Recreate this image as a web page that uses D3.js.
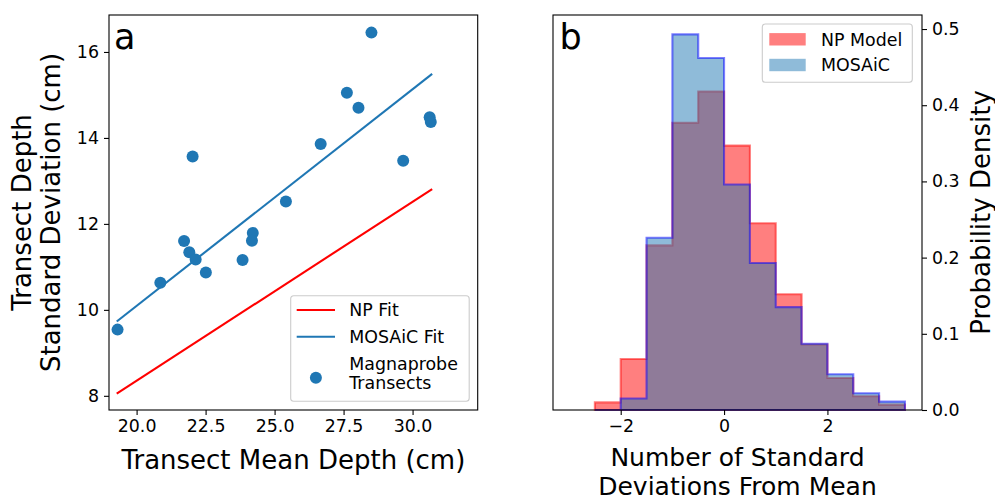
<!DOCTYPE html>
<html>
<head>
<meta charset="utf-8">
<script src="https://cdn.jsdelivr.net/npm/d3@7"></script>
<style>
  body { margin: 0; background: #fff; }
  svg { font-family: "DejaVu Sans", sans-serif; }
</style>
</head>
<body>
<svg id="chart"></svg>
<script>
// Panel a: magnaprobe transects
const meanDepth = [28.51, 27.62, 28.04, 30.62, 30.66, 26.67, 22.03, 29.66, 25.41,
  21.72, 21.91, 22.14, 22.51, 20.86, 19.31, 23.84, 24.21, 24.18]
const stdDepth = [16.45, 15.05, 14.70, 14.48, 14.37, 13.86, 13.57, 13.47, 12.52,
  11.60, 11.34, 11.17, 10.87, 10.63, 9.54, 11.16, 11.79, 11.61]

// Fit lines (end points)
const fitX = [19.28, 30.71]
const npFitY = [8.05, 12.81]
const mosaicFitY = [9.73, 15.49]

const xTicksA = [20, 22.5, 25, 27.5, 30]
const yTicksA = [8, 10, 12, 14, 16]

// Panel b: histograms (bin edges, densities)
const binEdges = [-2.5, -2, -1.5, -1, -0.5, 0, 0.5, 1, 1.5, 2, 2.5, 3, 3.5]
const npModel = [0.010, 0.067, 0.216, 0.377, 0.418, 0.347, 0.245, 0.152, 0.086, 0.042, 0.018, 0.007]
const mosaic = [0.000, 0.015, 0.226, 0.493, 0.462, 0.296, 0.193, 0.135, 0.087, 0.047, 0.022, 0.011]

const xTicksB = [-2, 0, 2]
const yTicksB = [0, 0.1, 0.2, 0.3, 0.4, 0.5]

const width = 995
const height = 499
const tickFont = 17.4
const labelFont = 26

const svg = d3.select("#chart")
  .attr("width", width)
  .attr("height", height)

// ---------- Panel a ----------
const a = { left: 109, right: 477.7, top: 15, bottom: 410 }

const xA = d3.scaleLinear().domain([19.0, 32.36]).range([a.left, a.right])
const yA = d3.scaleLinear().domain([7.67, 16.86]).range([a.bottom, a.top])

const gA = svg.append("g")

// x axis
gA.append("g")
  .attr("transform", `translate(0, ${a.bottom})`)
  .call(d3.axisBottom(xA).tickValues(xTicksA).tickFormat(d3.format(".1f")).tickSizeOuter(0).tickSize(5).tickPadding(5))
  .call(g => g.select(".domain").remove())
  .call(g => g.selectAll(".tick text").attr("font-size", tickFont).attr("font-family", "DejaVu Sans").attr("fill", "#000"))
  .call(g => g.selectAll(".tick line").attr("stroke-width", 1.1))

// y axis
gA.append("g")
  .attr("transform", `translate(${a.left}, 0)`)
  .call(d3.axisLeft(yA).tickValues(yTicksA).tickSizeOuter(0).tickSize(5).tickPadding(5))
  .call(g => g.select(".domain").remove())
  .call(g => g.selectAll(".tick text").attr("font-size", tickFont).attr("font-family", "DejaVu Sans").attr("fill", "#000"))
  .call(g => g.selectAll(".tick line").attr("stroke-width", 1.1))

// fit lines
const line = d3.line().x(d => xA(d[0])).y(d => yA(d[1]))
gA.append("path")
  .attr("d", line(d3.zip(fitX, npFitY)))
  .attr("stroke", "red").attr("stroke-width", 2.1).attr("fill", "none")
gA.append("path")
  .attr("d", line(d3.zip(fitX, mosaicFitY)))
  .attr("stroke", "#1f77b4").attr("stroke-width", 2.1).attr("fill", "none")

// scatter
gA.append("g")
  .selectAll("circle")
  .data(d3.zip(meanDepth, stdDepth))
  .join("circle")
  .attr("cx", d => xA(d[0]))
  .attr("cy", d => yA(d[1]))
  .attr("r", 6)
  .attr("fill", "#1f77b4")

// frame
gA.append("rect")
  .attr("x", a.left).attr("y", a.top)
  .attr("width", a.right - a.left).attr("height", a.bottom - a.top)
  .attr("fill", "none").attr("stroke", "#000").attr("stroke-width", 1.1)

// panel letter
gA.append("text").attr("x", 114).attr("y", 48.5).attr("font-size", 35).text("a")

// legend
const legA = gA.append("g").attr("transform", "translate(290.7, 295.7)")
legA.append("rect")
  .attr("width", 178.5).attr("height", 105.5).attr("rx", 3)
  .attr("fill", "#fff").attr("fill-opacity", 0.8).attr("stroke", "#ccc").attr("stroke-width", 1.1)
legA.append("line").attr("x1", 6).attr("x2", 44.3).attr("y1", 14.3).attr("y2", 14.3)
  .attr("stroke", "red").attr("stroke-width", 2.1)
legA.append("line").attr("x1", 6).attr("x2", 44.3).attr("y1", 41).attr("y2", 41)
  .attr("stroke", "#1f77b4").attr("stroke-width", 2.1)
legA.append("circle").attr("cx", 25.2).attr("cy", 82).attr("r", 6).attr("fill", "#1f77b4")
const legAText = [["NP Fit", 14.3], ["MOSAiC Fit", 41], ["Magnaprobe", 68.3], ["Transects", 87.3]]
legA.selectAll("text.lab")
  .data(legAText)
  .join("text")
  .attr("x", 58.6).attr("y", d => d[1]).attr("dy", "0.36em")
  .attr("font-size", tickFont)
  .text(d => d[0])

// axis labels
gA.append("text")
  .attr("x", (a.left + a.right) / 2).attr("y", 468.5)
  .attr("text-anchor", "middle").attr("font-size", labelFont)
  .text("Transect Mean Depth (cm)")
const yLabA = gA.append("text")
  .attr("transform", `translate(0, ${(a.top + a.bottom) / 2}) rotate(-90)`)
  .attr("text-anchor", "middle").attr("font-size", labelFont)
yLabA.append("tspan").attr("x", 0).attr("y", 31).text("Transect Depth")
yLabA.append("tspan").attr("x", 0).attr("y", 59.5).text("Standard Deviation (cm)")

// ---------- Panel b ----------
const b = { left: 553, right: 922, top: 15, bottom: 410 }

const xB = d3.scaleLinear().domain([-3.31, 3.83]).range([b.left, b.right])
const yB = d3.scaleLinear().domain([0, 0.5184]).range([b.bottom, b.top])

const gB = svg.append("g")

// step outline of a histogram
const histPath = vals => {
  const p = d3.path()
  p.moveTo(xB(binEdges[0]), yB(0))
  vals.forEach((v, i) => {
    p.lineTo(xB(binEdges[i]), yB(v))
    p.lineTo(xB(binEdges[i + 1]), yB(v))
  })
  p.lineTo(xB(binEdges[binEdges.length - 1]), yB(0))
  p.closePath()
  return p.toString()
}

gB.append("path")
  .attr("d", histPath(npModel))
  .attr("fill", "red").attr("fill-opacity", 0.5)
  .attr("stroke", "red").attr("stroke-opacity", 0.5).attr("stroke-width", 2.1)
  .attr("stroke-linejoin", "miter")
gB.append("path")
  .attr("d", histPath(mosaic))
  .attr("fill", "#1f77b4").attr("fill-opacity", 0.5)
  .attr("stroke", "blue").attr("stroke-opacity", 0.5).attr("stroke-width", 2.1)
  .attr("stroke-linejoin", "miter")

// x axis
gB.append("g")
  .attr("transform", `translate(0, ${b.bottom})`)
  .call(d3.axisBottom(xB).tickValues(xTicksB).tickFormat(d => d < 0 ? "\u2212" + Math.abs(d) : d).tickSizeOuter(0).tickSize(5).tickPadding(5))
  .call(g => g.select(".domain").remove())
  .call(g => g.selectAll(".tick text").attr("font-size", tickFont).attr("font-family", "DejaVu Sans").attr("fill", "#000"))
  .call(g => g.selectAll(".tick line").attr("stroke-width", 1.1))

// right y axis
gB.append("g")
  .attr("transform", `translate(${b.right}, 0)`)
  .call(d3.axisRight(yB).tickValues(yTicksB).tickFormat(d3.format(".1f")).tickSizeOuter(0).tickSize(5).tickPadding(5))
  .call(g => g.select(".domain").remove())
  .call(g => g.selectAll(".tick text").attr("font-size", tickFont).attr("font-family", "DejaVu Sans").attr("fill", "#000"))
  .call(g => g.selectAll(".tick line").attr("stroke-width", 1.1))

// frame
gB.append("rect")
  .attr("x", b.left).attr("y", b.top)
  .attr("width", b.right - b.left).attr("height", b.bottom - b.top)
  .attr("fill", "none").attr("stroke", "#000").attr("stroke-width", 1.1)

gB.append("text").attr("x", 559.5).attr("y", 48.5).attr("font-size", 35).text("b")

// legend
const legB = gB.append("g").attr("transform", "translate(762.3, 24)")
legB.append("rect")
  .attr("width", 150).attr("height", 58.3).attr("rx", 3)
  .attr("fill", "#fff").attr("fill-opacity", 0.8).attr("stroke", "#ccc").attr("stroke-width", 1.1)
const legBItems = [["NP Model", "red", "red", 15.3], ["MOSAiC", "#1f77b4", "blue", 41]]
legB.selectAll("rect.sw")
  .data(legBItems)
  .join("rect")
  .attr("class", "sw")
  .attr("x", 7).attr("y", d => d[3] - 6.2).attr("width", 36.4).attr("height", 12.4)
  .attr("fill", d => d[1]).attr("fill-opacity", 0.5)
legB.selectAll("text")
  .data(legBItems)
  .join("text")
  .attr("x", 58.7).attr("y", d => d[3]).attr("dy", "0.36em")
  .attr("font-size", tickFont)
  .text(d => d[0])

// axis labels (two lines, slightly smaller to fit the bottom edge)
gB.append("text")
  .attr("x", 737.5).attr("y", 466)
  .attr("text-anchor", "middle").attr("font-size", 25)
  .text("Number of Standard")
gB.append("text")
  .attr("x", 737.5).attr("y", 494.5)
  .attr("text-anchor", "middle").attr("font-size", 25)
  .text("Deviations From Mean")
gB.append("text")
  .attr("transform", `translate(990, ${(b.top + b.bottom) / 2}) rotate(-90)`)
  .attr("text-anchor", "middle").attr("font-size", labelFont)
  .text("Probability Density")
</script>
</body>
</html>
